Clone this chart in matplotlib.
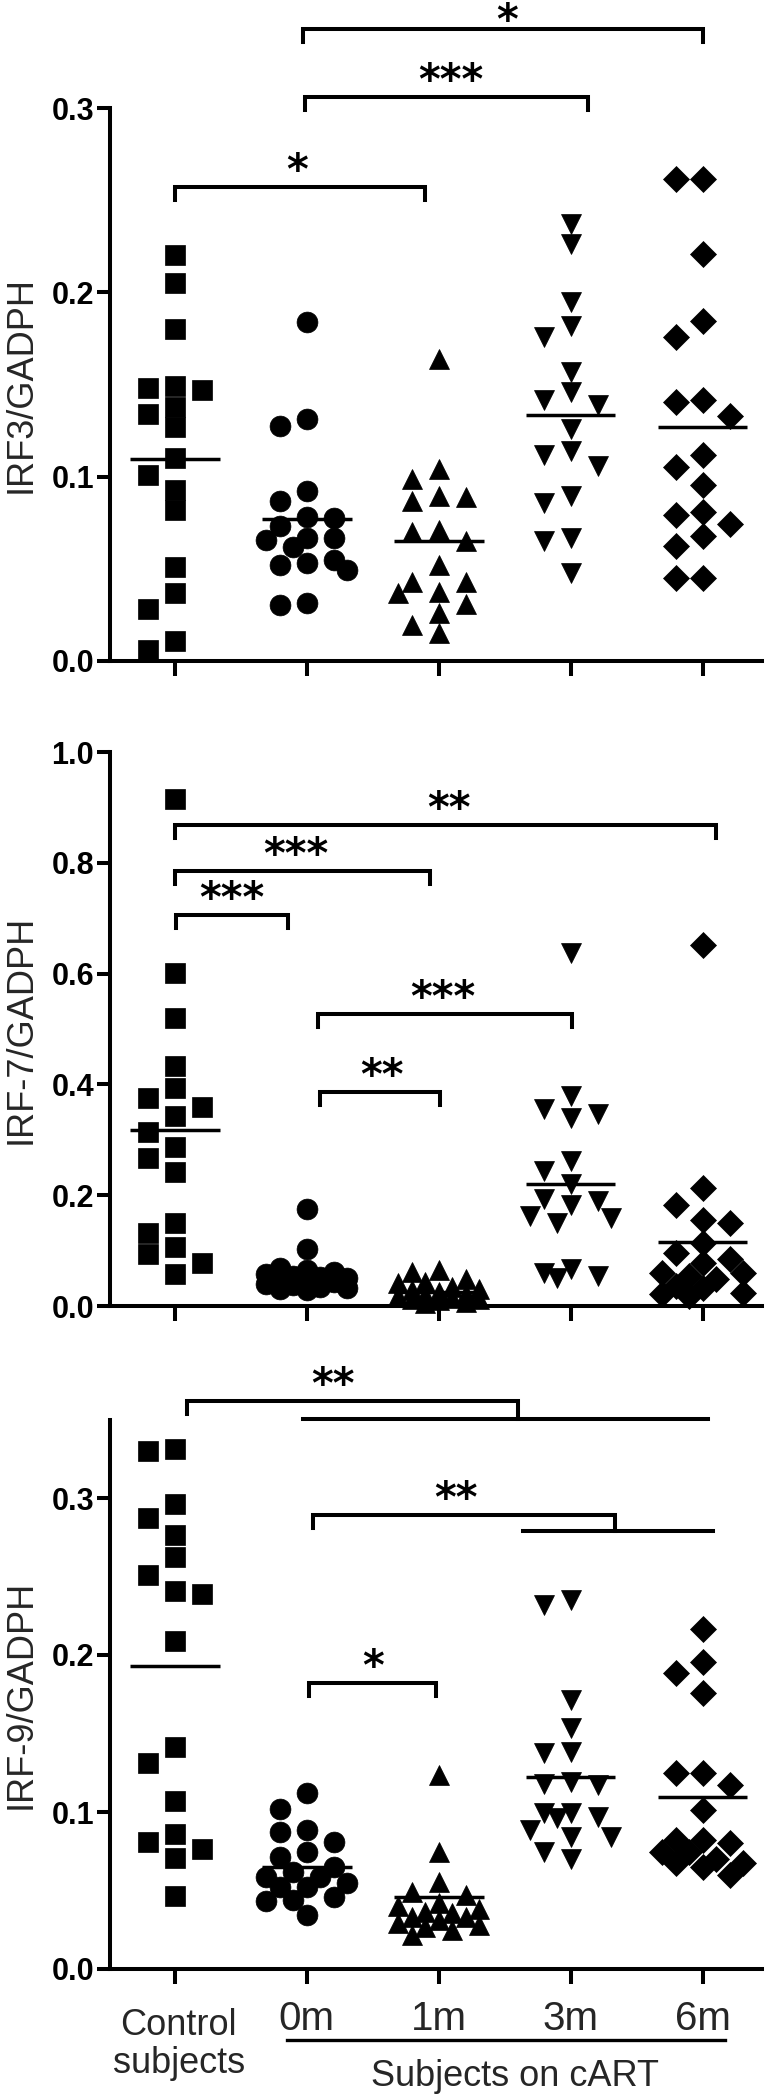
import numpy as np
import matplotlib
matplotlib.use('Agg')
import matplotlib.pyplot as plt

plt.rcParams['font.family'] = ['Liberation Sans', 'DejaVu Sans']

groups = ['Control', '0m', '1m', '3m', '6m']
markers = ['s', 'o', '^', 'v', 'D']
msizes = [14.5, 15, 15, 15, 13]

# IRF3/GADPH (top panel)
irf3_ctrl = [0.2205, 0.205, 0.180, 0.149, 0.148, 0.147, 0.138, 0.134, 0.127, 0.110, 0.101, 0.093, 0.082, 0.051, 0.037, 0.028, 0.011, 0.006]
irf3_0m = [0.184, 0.1314, 0.1274, 0.092, 0.0866, 0.0784, 0.0775, 0.073, 0.0666, 0.0666, 0.0657, 0.062, 0.0548, 0.053, 0.052, 0.0494, 0.0312, 0.0303]
irf3_1m = [0.164, 0.104, 0.099, 0.0896, 0.089, 0.0866, 0.071, 0.070, 0.065, 0.052, 0.043, 0.043, 0.0376, 0.0367, 0.031, 0.026, 0.0195, 0.015]
irf3_3m = [0.237, 0.226, 0.1946, 0.1816, 0.1757, 0.157, 0.146, 0.1415, 0.139, 0.126, 0.114, 0.112, 0.106, 0.0896, 0.086, 0.067, 0.065, 0.048]
irf3_6m = [0.2618, 0.2618, 0.221, 0.1847, 0.176, 0.1415, 0.1403, 0.133, 0.112, 0.1054, 0.0955, 0.081, 0.079, 0.0743, 0.068, 0.0625, 0.0448, 0.0448]
irf3_mean = [0.1097, 0.077, 0.065, 0.1337, 0.127]

# IRF-7/GADPH (middle panel)
irf7_ctrl = [0.9157, 0.601, 0.5205, 0.433, 0.3936, 0.3746, 0.3594, 0.3427, 0.3138, 0.287, 0.2667, 0.2416, 0.150, 0.1315, 0.106, 0.0935, 0.078, 0.0578]
irf7_0m = [0.175, 0.102, 0.068, 0.065, 0.062, 0.058, 0.055, 0.052, 0.050, 0.048, 0.045, 0.043, 0.040, 0.038, 0.035, 0.032, 0.030, 0.028]
irf7_1m = [0.065, 0.062, 0.048, 0.044, 0.042, 0.035, 0.030, 0.028, 0.025, 0.022, 0.020, 0.018, 0.015, 0.013, 0.012, 0.010, 0.008, 0.006]
irf7_3m = [0.638, 0.379, 0.355, 0.346, 0.340, 0.262, 0.244, 0.220, 0.1925, 0.1895, 0.183, 0.162, 0.159, 0.150, 0.066, 0.060, 0.054, 0.051]
irf7_6m = [0.652, 0.2136, 0.182, 0.156, 0.150, 0.114, 0.096, 0.084, 0.078, 0.060, 0.060, 0.054, 0.048, 0.036, 0.033, 0.024, 0.021, 0.018]
irf7_mean = [0.3176, 0.053, 0.025, 0.221, 0.1155]

# IRF-9/GADPH (bottom panel)
irf9_ctrl = [0.331, 0.3298, 0.2962, 0.287, 0.2766, 0.2627, 0.2512, 0.2409, 0.2387, 0.2092, 0.1414, 0.1315, 0.1072, 0.0858, 0.0808, 0.0765, 0.0709, 0.0466]
irf9_0m = [0.112, 0.102, 0.0885, 0.0875, 0.081, 0.0747, 0.0715, 0.065, 0.062, 0.0588, 0.0588, 0.0546, 0.0524, 0.0524, 0.046, 0.044, 0.043, 0.0344]
irf9_1m = [0.1236, 0.0747, 0.0556, 0.049, 0.047, 0.042, 0.040, 0.038, 0.0365, 0.0355, 0.0333, 0.0333, 0.031, 0.029, 0.028, 0.027, 0.025, 0.0217]
irf9_3m = [0.235, 0.232, 0.1713, 0.1533, 0.1384, 0.1374, 0.1193, 0.1178, 0.1172, 0.0992, 0.0992, 0.097, 0.096, 0.0885, 0.0843, 0.0843, 0.0747, 0.0699]
irf9_6m = [0.2163, 0.1958, 0.1883, 0.1756, 0.1246, 0.1246, 0.1172, 0.1013, 0.0822, 0.0822, 0.080, 0.0747, 0.0747, 0.070, 0.0673, 0.0673, 0.065, 0.0599]
irf9_mean = [0.1927, 0.065, 0.046, 0.122, 0.1098]

# significance brackets: (x1, x2, y, label, label_x, label_dy_px)
irf3_brackets = [(0.0, 1.90, 0.257, '*', 0.93, 3), (0.985, 3.13, 0.306, '***', 2.09, 3),
                 (0.974, 4.0, 0.343, '*', 2.52, -5)]
irf7_brackets = [(0.0, 4.10, 0.8685, '**', 2.08, 3), (0.0, 1.935, 0.786, '***', 0.92, 3),
                 (0.01, 0.86, 0.705, '***', 0.43, 3), (1.086, 3.01, 0.5266, '***', 2.03, 3),
                 (1.10, 2.01, 0.386, '**', 1.57, 3)]
irf9_brackets = [(1.02, 1.98, 0.182, '*', 1.5, 3)]
# group brackets: (x1, xdrop, y_hi, x3, x4, y_lo, label, label_x)
irf9_groups = [(0.095, 2.60, 0.3615, 0.974, 4.04, 0.3506, '**', 1.2),
               (1.05, 3.34, 0.289, 2.64, 4.08, 0.2791, '**', 2.13)]

W, H = 774, 2096
fig = plt.figure(figsize=(W / 100, H / 100), dpi=100)
LW = 2.9
MLW = 2.5
TXT = '#262626'
XLIM = (-0.49, 4.45)
STAR_FS = 30


def swarm(vals, px_y, px_x, step=27.0, diam=20.0):
    # simple beeswarm: spread points sideways when they would overlap
    vals = np.asarray(vals, dtype=float)
    order = np.argsort(-vals, kind='stable')
    cands = np.array([0, -1, 1, -0.5, 0.5, -1.5, 1.5]) * step
    px, py = [], []
    offs = np.zeros(len(vals))
    for i in order:
        y = vals[i] * px_y
        best, best_d = 0.0, -1.0
        for c in cands:
            d = np.min(np.hypot(np.array(px) - c, np.array(py) - y)) if px else np.inf
            if d >= diam:
                best = c
                break
            if d > best_d:
                best, best_d = c, d
        offs[i] = best
        px.append(best)
        py.append(y)
    return offs / px_x


def stars(ax, lab, x, y, dy):
    ax.annotate(lab, xy=(x, y), xytext=(0, dy), textcoords='offset pixels',
                ha='center', va='baseline', fontsize=STAR_FS, fontweight='bold',
                family='DejaVu Sans', annotation_clip=False)


panels = [
    dict(zero=661, unit=1843, ymax=0.355, spine=0.3, ticks=[0, 0.1, 0.2, 0.3],
         label='IRF3/GADPH', data=[irf3_ctrl, irf3_0m, irf3_1m, irf3_3m, irf3_6m], means=irf3_mean,
         brackets=irf3_brackets, groups=[]),
    dict(zero=1306, unit=554, ymax=1.0, spine=1.0, ticks=[0, 0.2, 0.4, 0.6, 0.8, 1.0],
         label='IRF-7/GADPH', data=[irf7_ctrl, irf7_0m, irf7_1m, irf7_3m, irf7_6m], means=irf7_mean,
         brackets=irf7_brackets, groups=[]),
    dict(zero=1969, unit=1570, ymax=0.35, spine=0.35, ticks=[0, 0.1, 0.2, 0.3],
         label='IRF-9/GADPH', data=[irf9_ctrl, irf9_0m, irf9_1m, irf9_3m, irf9_6m], means=irf9_mean,
         brackets=irf9_brackets, groups=irf9_groups),
]

left_px, right_px = 110, 762
px_x = (right_px - left_px) / (XLIM[1] - XLIM[0])
axes = []
for p in panels:
    h = p['ymax'] * p['unit']
    ax = fig.add_axes([left_px / W, (H - p['zero']) / H, (right_px - left_px) / W, h / H])
    ax.set_xlim(*XLIM)
    ax.set_ylim(0, p['ymax'])
    for sp in ['top', 'right']:
        ax.spines[sp].set_visible(False)
    ax.spines['left'].set_linewidth(LW)
    ax.spines['bottom'].set_linewidth(LW)
    ax.spines['left'].set_bounds(0, p['spine'])

    for i, vals in enumerate(p['data']):
        offs = swarm(vals, p['unit'], px_x)
        ax.plot(i + offs, vals, linestyle='none', marker=markers[i], ms=msizes[i],
                color='black', mec='black', mew=0.5, clip_on=False, zorder=3)
        ax.hlines(p['means'][i], i - 0.34, i + 0.34, color='black', lw=MLW, zorder=4)

    leg = 13 / p['unit']
    for x1, x2, y, lab, lx, dy in p['brackets']:
        ax.plot([x1, x1, x2, x2], [y - leg, y, y, y - leg], color='black', lw=LW,
                clip_on=False, solid_joinstyle='miter')
        stars(ax, lab, lx, y, dy)
    for x1, xd, yh, x3, x4, yl, lab, lx in p['groups']:
        ax.plot([x1, x1, xd, xd], [yh - leg, yh, yh, yl], color='black', lw=LW,
                clip_on=False, solid_joinstyle='miter')
        ax.plot([x3, x4], [yl, yl], color='black', lw=LW, clip_on=False)
        stars(ax, lab, lx, yh, 3)

    ax.set_yticks(p['ticks'])
    ax.set_yticklabels(['{:.1f}'.format(t) for t in p['ticks']], fontweight='bold')
    ax.tick_params(axis='y', length=9.4, width=LW, pad=2, labelsize=22)
    ax.set_xticks(range(len(groups)))
    ax.set_xticklabels([])
    ax.tick_params(axis='x', length=10.8, width=LW)
    ax.set_ylabel(p['label'], fontsize=26, color=TXT)
    ax.yaxis.set_label_coords(-0.109, min(p['spine'], p['ymax']) / 2 / p['ymax'])
    axes.append(ax)

# bottom category labels
ax3 = axes[2]
ax3.annotate('Control', xy=(0.03, 0), xycoords=('data', 'axes fraction'), xytext=(0, -66),
             textcoords='offset pixels', ha='center', va='baseline', fontsize=26, color=TXT)
ax3.annotate('subjects', xy=(0.03, 0), xycoords=('data', 'axes fraction'), xytext=(0, -104),
             textcoords='offset pixels', ha='center', va='baseline', fontsize=26, color=TXT)
for i, g in enumerate(groups[1:], start=1):
    ax3.annotate(g, xy=(i, 0), xycoords=('data', 'axes fraction'), xytext=(0, -61),
                 textcoords='offset pixels', ha='center', va='baseline', fontsize=29, color=TXT)
line_y = -71 / ax3.bbox.height
ax3.plot([0.85, 4.17], [line_y, line_y], transform=ax3.get_xaxis_transform(),
         color='black', lw=2.4, clip_on=False)
ax3.annotate('Subjects on cART', xy=(2.58, 0), xycoords=('data', 'axes fraction'), xytext=(0, -117),
             textcoords='offset pixels', ha='center', va='baseline', fontsize=26, color=TXT)

fig.savefig('out.png', dpi=100)
